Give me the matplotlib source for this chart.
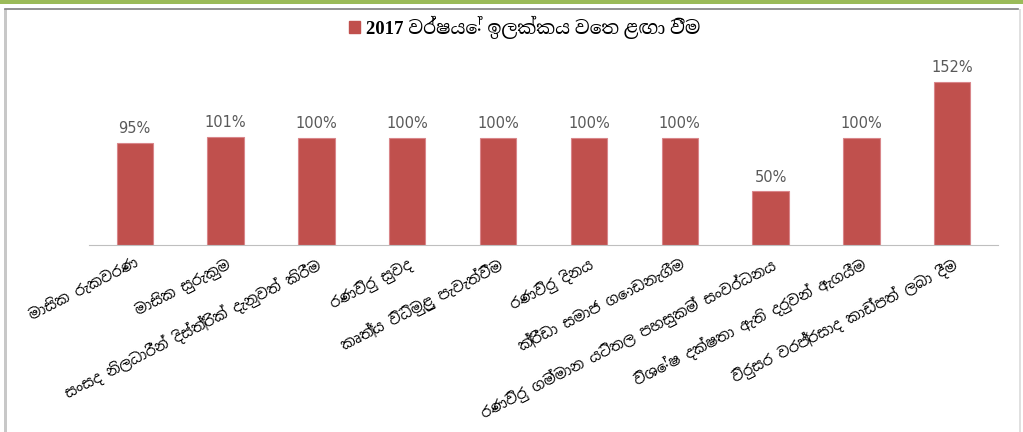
import matplotlib
matplotlib.use('Agg')
import matplotlib.pyplot as plt
from matplotlib.patches import Rectangle
from matplotlib.lines import Line2D

# chart data
categories = [
    'මාසික රැකවරණ',
    'මාසික සුරැකුම',
    'සංසද නිලධාරීන් දිස්ත්‍රික් දැනුවත් කිරීම',
    'රණවිරු සුවද',
    'කෘත්‍ය විධිමුළු පැවැත්වීම',
    'රණවිරු දිනය',
    'ක්‍රීඩා සමාජ ගොඩනැගීම',
    'රණවිරු ගම්මාන යටිතල පහසුකම් සංවර්ධනය',
    'විශේෂ දක්ෂතා ඇති දරුවන් ඇගයීම',
    'විරුසර වරප්‍රසාද කාඩ්පත් ලබා දීම',
]
values = [95, 101, 100, 100, 100, 100, 100, 50, 100, 152]
series_name = '2017 වර්ෂයේ ඉලක්කය වෙත ළඟා වීම'

bar_color = '#C0504D'
sinhala_fonts = ['Noto Sans Sinhala', 'DejaVu Sans']

fig = plt.figure(figsize=(10.23, 4.32), dpi=100)

# frame decorations: green strip, grey rule, side borders
fig.add_artist(Rectangle((0, 1 - 4 / 432), 1, 4 / 432, transform=fig.transFigure,
                         color='#9BBB59', lw=0))
fig.add_artist(Line2D([5 / 1023, 1018 / 1023], [1 - 8.5 / 432] * 2, transform=fig.transFigure,
                      color='#808080', lw=1.2))
fig.add_artist(Rectangle((4 / 1023, 0), 3 / 1023, 1 - 9 / 432, transform=fig.transFigure,
                         color='#C8C8C8', lw=0))
fig.add_artist(Rectangle((1019 / 1023, 0), 2 / 1023, 1 - 9 / 432, transform=fig.transFigure,
                         color='#E0E0E0', lw=0))

ax = fig.add_axes([89.3 / 1023, 187 / 432, 908.4 / 1023, 182 / 432])
x = list(range(len(categories)))
ax.bar(x, values, width=0.4, color=bar_color, edgecolor='#D9868A', linewidth=0.8)

for xi, v in zip(x, values):
    ax.annotate(f'{v}%', (xi, v), xytext=(0, 5), textcoords='offset points',
                ha='center', va='bottom', fontsize=10.5, color='#595959',
                family=['DejaVu Sans'])

ax.set_xlim(-0.5, len(categories) - 0.5)
ax.set_ylim(0, 170)
ax.set_yticks([])
ax.set_xticks(x)
ax.set_xticklabels(categories, rotation=27, ha='right', va='top', rotation_mode='anchor',
                   fontsize=10.5, family=sinhala_fonts, color='black', fontweight='semibold')
ax.tick_params(axis='x', length=0, pad=8)
for s in ['top', 'right', 'left']:
    ax.spines[s].set_visible(False)
ax.spines['bottom'].set_color('#BFBFBF')

handle = Rectangle((0, 0), 1, 1, color=bar_color)
fig.legend([handle], [series_name], loc='center', bbox_to_anchor=(0.513, 1 - 27 / 432),
           frameon=False, handlelength=0.6, handleheight=0.6, handletextpad=0.3,
           prop={'family': ['Liberation Serif', 'Noto Serif Sinhala', 'DejaVu Sans'],
                 'weight': 'bold', 'size': 13.5})

fig.savefig('out.png', dpi=100)
